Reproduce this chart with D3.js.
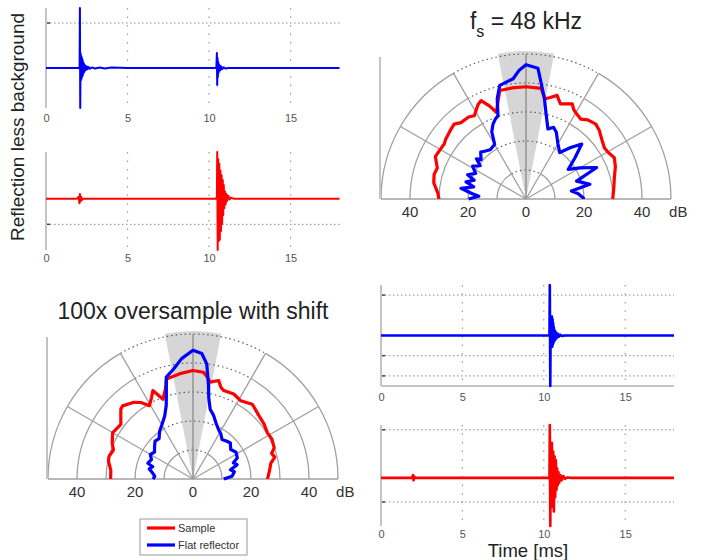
<!DOCTYPE html>
<html><head><meta charset="utf-8">
<script src="https://cdn.jsdelivr.net/npm/d3@7/dist/d3.min.js"></script>
<style>body{margin:0;background:#fff}svg{display:block;font-family:"Liberation Sans",Arial,sans-serif}</style>
</head><body><svg id="c" width="705" height="560"></svg>
<script>
// ---------- data ----------
const timeTicks = [0, 5, 10, 15];
const polarLabels = [40, 20, 0, 20, 40];
const ringLevels = [10, 20, 30, 40, 50];
const spokeAngles = [0, 30, 60, 90, 120, 150, 180];

// time traces [ms, amplitude]
const traceTopBlue = [[0,0],[2.0,0],[2.06,0.02],[2.08,1.2],[2.1,-0.8],[2.12,0.3],[2.13,-0.26],[2.14,0.25],[2.15,-0.24],[2.16,0.24],[2.17,-0.22],[2.18,0.22],[2.19,-0.2],[2.2,0.2],[2.21,-0.18],[2.22,0.18],[2.23,-0.17],[2.24,0.16],[2.25,-0.15],[2.26,0.14],[2.28,-0.12],[2.3,0.1],[2.32,-0.09],[2.34,0.08],[2.36,-0.07],[2.38,0.06],[2.4,-0.05],[2.43,0.04],[2.46,-0.035],[2.5,0.03],[2.55,-0.025],[2.6,0.02],[2.7,-0.015],[2.8,0.012],[3.0,-0.01],[3.3,0.01],[3.6,-0.008],[4.0,0.008],[5,0],[10.4,0],[10.45,0.02],[10.48,0.3],[10.5,-0.34],[10.52,0.2],[10.54,-0.18],[10.56,0.12],[10.58,-0.1],[10.6,0.08],[10.63,-0.06],[10.66,0.05],[10.7,-0.04],[10.75,0.03],[10.8,-0.02],[10.9,0.015],[11.0,-0.01],[11.2,0],[18,0]];
const traceTopRed = [[0,0],[1.9,0],[2.0,0.04],[2.05,-0.1],[2.08,0.1],[2.12,-0.06],[2.16,0.04],[2.2,-0.03],[2.3,0],[10.4,0],[10.48,0.02],[10.5,1.0],[10.53,-1.1],[10.56,0.85],[10.6,-0.9],[10.63,0.75],[10.66,-0.88],[10.7,0.6],[10.73,-0.7],[10.77,0.5],[10.8,-0.55],[10.84,0.4],[10.87,-0.35],[10.9,0.3],[10.94,-0.2],[10.98,0.15],[11.02,-0.12],[11.06,0.1],[11.1,-0.05],[11.15,0.07],[11.2,0.05],[11.25,-0.02],[11.35,0.02],[11.5,0],[18,0]];
const traceBotBlue = [[0,0],[10.3,0],[10.35,0.02],[10.37,1.25],[10.4,-1.25],[10.42,0.2],[10.44,-0.2],[10.46,0.3],[10.48,-0.25],[10.5,0.47],[10.52,-0.28],[10.54,0.4],[10.56,-0.22],[10.58,0.3],[10.6,-0.18],[10.62,0.2],[10.65,-0.14],[10.68,0.12],[10.71,-0.1],[10.75,0.08],[10.8,-0.06],[10.86,0.04],[10.93,-0.03],[11.0,0.02],[11.1,-0.01],[11.3,0],[18,0]];
const traceBotRed = [[0,0],[1.9,0],[1.97,0.06],[2.0,-0.05],[2.04,0.03],[2.1,0],[10.3,0],[10.35,0.02],[10.37,1.1],[10.4,-1.0],[10.43,0.3],[10.46,-0.5],[10.5,0.73],[10.54,-0.6],[10.58,0.55],[10.62,-0.7],[10.66,0.45],[10.7,-0.4],[10.74,0.37],[10.78,-0.25],[10.82,0.2],[10.86,-0.15],[10.9,0.12],[10.95,-0.1],[11.02,0.06],[11.1,-0.05],[11.2,0.04],[11.3,-0.02],[11.45,0.01],[11.7,0],[18,0]];

// polar curves [angle from broadside (deg), level (dB)]
const fs48Red = [[-90,30],[-86,30.5],[-80,32.3],[-75,32.8],[-70.7,32.4],[-65,34.5],[-61,34.2],[-56,34.0],[-53.4,34.5],[-48,35.2],[-43.8,35.8],[-40.4,34.6],[-35,34.5],[-31.8,33.8],[-27,36.5],[-24.5,37.3],[-21.5,34.5],[-18.9,31.6],[-16,35.0],[-13.6,38.5],[-7,38.6],[0,38.7],[7.8,38.5],[9,37.0],[10.9,35.2],[13.5,36.0],[16.7,37.3],[19.9,34.9],[22.5,35.5],[25.9,36.5],[28,35.0],[29.8,34.4],[34.4,33.4],[38,34.6],[43,35.3],[47,34.6],[52,33.2],[56.8,32.3],[60,32.5],[65,33.6],[70,32.8],[76.7,31.3],[83,30.5],[90,29.9]];
const fs48Blue = [[-90,19.8],[-86.7,16.3],[-84,19],[-80.6,22.7],[-77,18.5],[-74,21.5],[-70,19],[-67.4,21.8],[-63,19.5],[-58.4,21.6],[-54,19.5],[-51,22],[-48.7,20.6],[-44,22.5],[-40.9,21.8],[-36,21],[-29.9,21.7],[-27,26],[-23.8,28.2],[-21,29.5],[-18.6,30.3],[-16,36],[-13,40.2],[-6.1,41.7],[-3,44.5],[0,46.3],[5.2,45.3],[7.5,40.2],[10.4,35.2],[13.6,29.7],[17.4,25.3],[21,26.5],[24.4,25.3],[30,22],[36,19.8],[41,23.5],[45.4,27],[50,22],[55,17.8],[60,21.5],[66,26.7],[70.5,18.5],[74,20.5],[77,22.6],[80,15.9],[84,18],[89,19.8],[90,19.8]];
const osRed = [[-90,28.4],[-84,28.5],[-78,29.8],[-74.9,30],[-70,29.2],[-66,30.5],[-60,32],[-58.7,31.8],[-52.9,31.2],[-48,33.5],[-46,34.6],[-43.9,35],[-38,33.5],[-34.2,31.9],[-30.7,29.4],[-27,31.5],[-24.4,33.5],[-20.6,29.4],[-17,32.5],[-14.9,35.7],[-7.1,36.6],[0,37.4],[5.6,37],[8,35.5],[10,33.9],[14.6,35.1],[17,33],[19.2,32.3],[25.6,32.5],[31.3,31.6],[38.4,32.9],[42,32.2],[46.3,31.5],[52,31],[58.2,30.2],[63,30.5],[69,30],[72,28.5],[75,29.2],[78.5,27.4],[84,26.5],[90,25.7]];
const osBlue = [[-90,13.8],[-86,13.2],[-81.9,14],[-77,15.5],[-73,14.5],[-70.7,16.5],[-65,15.8],[-60,17],[-55,16.2],[-49.6,17.4],[-45,18.5],[-40,18.2],[-34.9,20.1],[-30,21.5],[-24.2,23.8],[-20,27],[-17.4,30.7],[-14.7,36.3],[-10,38.5],[-5.4,41.7],[0,44.4],[4,43.4],[6.8,40],[9.4,32.7],[11,28.5],[13.8,24.8],[18,23],[22,21],[27.3,19.2],[32,18.2],[36.3,16.9],[42,17.5],[46,17.9],[52,16.5],[58,17.5],[64.7,16.9],[68,15],[72,16],[76.3,13.3],[80,14.5],[86,13.5],[90,10.6]];
const legendItems = [{name:"Sample", color:"#ff0000"}, {name:"Flat reflector", color:"#0000ff"}];

// ---------- drawing ----------
const svg = d3.select("#c");
svg.append("rect").attr("width",705).attr("height",560).attr("fill","#fff");

function timePlot(cfg){
  const g = svg.append("g");
  const x = d3.scaleLinear().domain([0,18]).range([cfg.x0, cfg.x1]);
  const y = d3.scaleLinear().domain(cfg.yDomain).range([cfg.yBottom, cfg.yTop]);
  g.selectAll(".vg").data(timeTicks.slice(1)).join("line")
    .attr("x1",d=>x(d)).attr("x2",d=>x(d)).attr("y1",cfg.yTop).attr("y2",cfg.yBottom)
    .attr("stroke","#9a9a9a").attr("stroke-width",1.2).attr("stroke-dasharray","1.5,7");
  g.selectAll(".hg").data(cfg.grid).join("line")
    .attr("x1",x(0)).attr("x2",x(18)).attr("y1",d=>y(d)).attr("y2",d=>y(d))
    .attr("stroke","#8a8a8a").attr("stroke-width",1).attr("stroke-dasharray","1.5,2.5");
  g.selectAll(".ht").data(cfg.grid).join("line")
    .attr("x1",x(0)).attr("x2",x(0)+4).attr("y1",d=>y(d)).attr("y2",d=>y(d))
    .attr("stroke","#444").attr("stroke-width",1.5);
  g.append("line").attr("x1",x(0)).attr("x2",x(0)).attr("y1",cfg.yTop).attr("y2",cfg.yBottom)
    .attr("stroke","#c4c4c4").attr("stroke-width",2);
  if(cfg.bottomAxis) g.append("line").attr("x1",x(0)).attr("x2",x(18)).attr("y1",cfg.yBottom).attr("y2",cfg.yBottom)
    .attr("stroke","#c4c4c4").attr("stroke-width",2);
  const ax = d3.axisBottom(x).tickValues(timeTicks).tickSize(0).tickPadding(0);
  const axg = g.append("g").attr("transform",`translate(0,${cfg.labelY})`).call(ax);
  axg.select(".domain").remove();
  axg.selectAll("text").attr("font-size",11).attr("fill","#555").attr("dy","0.35em")
    .attr("font-family","Liberation Sans, Arial, sans-serif");
  g.append("path").datum(cfg.data)
    .attr("d", d3.line().x(d=>x(d[0])).y(d=>y(d[1])))
    .attr("fill","none").attr("stroke",cfg.color).attr("stroke-width",cfg.lw||2).attr("stroke-linejoin","round");
}

timePlot({x0:46,x1:339.5,yTop:8,yBottom:108,yDomain:[-0.8,1.2],grid:[0.9],labelY:118,data:traceTopBlue,color:"#0000ff",lw:2});
timePlot({x0:46,x1:339.5,yTop:152,yBottom:250,yDomain:[-1.1,1],grid:[-0.55],labelY:258,data:traceTopRed,color:"#ff0000",lw:2});
timePlot({x0:381,x1:674,yTop:285,yBottom:386,yDomain:[-1.25,1.25],grid:[1,-0.5,-1],labelY:397,data:traceBotBlue,color:"#0000ff",lw:2.6,bottomAxis:true});
timePlot({x0:381,x1:674,yTop:425,yBottom:526,yDomain:[-1,1.1],grid:[1,-0.5],labelY:534,data:traceBotRed,color:"#ff0000",lw:2.6});

svg.append("text").attr("transform","translate(24,127) rotate(-90)").attr("text-anchor","middle")
  .attr("font-size",19).attr("fill","#222").text("Reflection less background");
svg.append("text").attr("x",528).attr("y",557).attr("text-anchor","middle")
  .attr("font-size",18.5).attr("fill","#222").text("Time [ms]");

function polarPlot(cx, cy, red, blue){
  const g = svg.append("g").attr("transform",`translate(${cx},${cy})`);
  const r = d3.scaleLinear().domain([0,50]).range([0,145]);
  const rad = Math.PI/180;
  g.append("path").attr("d", d3.arc()({innerRadius:0,outerRadius:r(51),startAngle:-11*rad,endAngle:11*rad}))
    .attr("fill","#d6d6d6");
  ringLevels.forEach(v=>{
    const p1 = d3.path(); p1.arc(0,0,r(v),Math.PI,Math.PI*4/3);
    const p2 = d3.path(); p2.moveTo(r(v)*Math.cos(Math.PI*5/3), r(v)*Math.sin(Math.PI*5/3)); p2.arc(0,0,r(v),Math.PI*5/3,Math.PI*2);
    const p3 = d3.path(); p3.moveTo(r(v)*Math.cos(Math.PI*4/3), r(v)*Math.sin(Math.PI*4/3)); p3.arc(0,0,r(v),Math.PI*4/3,Math.PI*5/3);
    g.append("path").attr("d",p1.toString()+p2.toString()).attr("fill","none").attr("stroke","#a0a0a0").attr("stroke-width",1.3);
    g.append("path").attr("d",p3.toString()).attr("fill","none").attr("stroke","#555").attr("stroke-width",1.1).attr("stroke-dasharray","1.5,3");
  });
  g.selectAll(".sp").data(spokeAngles).join("line")
    .attr("x1",0).attr("y1",0)
    .attr("x2",d=>-r(50)*Math.cos(d*rad)).attr("y2",d=>-r(50)*Math.sin(d*rad))
    .attr("stroke",d=>d===90?"#888":"#a0a0a0").attr("stroke-width",1.3);
  g.append("line").attr("x1",-r(50)-1).attr("x2",-r(50)-1).attr("y1",-r(49)).attr("y2",0)
    .attr("stroke","#c4c4c4").attr("stroke-width",2);
  const lr = d3.lineRadial().angle(d=>d[0]*rad).radius(d=>r(d[1]));
  g.append("path").datum(red).attr("d",lr).attr("fill","none").attr("stroke","#ff0000").attr("stroke-width",3.2).attr("stroke-linejoin","round");
  g.append("path").datum(blue).attr("d",lr).attr("fill","none").attr("stroke","#0000ff").attr("stroke-width",3.2).attr("stroke-linejoin","round");
  const sgn = [-1,-1,0,1,1];
  g.selectAll(".pl").data(polarLabels).join("text")
    .attr("x",(d,i)=>sgn[i]*r(d)).attr("y",18).attr("text-anchor","middle")
    .attr("font-size",15).attr("fill","#333").text(d=>d);
  g.append("text").attr("x",r(52.5)).attr("y",18).attr("text-anchor","middle")
    .attr("font-size",15).attr("fill","#333").text("dB");
}
polarPlot(526,199,fs48Red,fs48Blue);
polarPlot(193,479,osRed,osBlue);

const t1 = svg.append("text").attr("x",526).attr("y",29).attr("text-anchor","middle").attr("font-size",23).attr("fill","#222");
t1.append("tspan").text("f");
t1.append("tspan").attr("font-size",16).attr("dy",8).text("s");
t1.append("tspan").attr("dy",-8).text(" = 48 kHz");
svg.append("text").attr("x",193).attr("y",319).attr("text-anchor","middle").attr("font-size",23).attr("fill","#222")
  .text("100x oversample with shift");

const lg = svg.append("g");
lg.append("rect").attr("x",140).attr("y",519).attr("width",107).attr("height",36).attr("fill","#fff").attr("stroke","#999").attr("stroke-width",1);
lg.selectAll(".li").data(legendItems).join("line")
  .attr("x1",147).attr("x2",175).attr("y1",(d,i)=>528+i*17).attr("y2",(d,i)=>528+i*17)
  .attr("stroke",d=>d.color).attr("stroke-width",3.2);
lg.selectAll(".lt").data(legendItems).join("text")
  .attr("x",178).attr("y",(d,i)=>532+i*17).attr("font-size",11).attr("fill","#333").text(d=>d.name);
</script></body></html>
